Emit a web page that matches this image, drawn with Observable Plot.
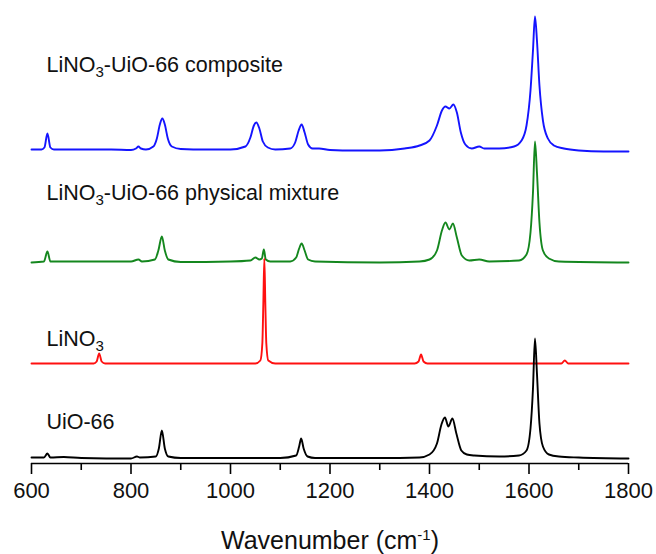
<!DOCTYPE html>
<html><head><meta charset="utf-8">
<script src="https://cdn.jsdelivr.net/npm/d3@7"></script>
<script src="https://cdn.jsdelivr.net/npm/@observablehq/plot@0.6"></script>
<style>body{margin:0;background:#fff;} #chart svg{font-family:"Liberation Sans",Arial,sans-serif;}</style>
</head><body><div id="chart"></div>
<script>
// Raman spectra (wavenumber, intensity in a.u. above each trace's baseline)
const compositeWn = [600,620,626,632,638,645,700,760,800,810,815,820,830,845,852,858,863,868,874,882,900,950,1000,1030,1040,1047,1052,1058,1065,1075,1090,1120,1130,1137,1143,1149,1156,1165,1178,1200,1250,1300,1350,1380,1400,1415,1425,1432,1440,1448,1455,1463,1472,1485,1500,1510,1540,1570,1585,1595,1603,1608,1612,1616,1621,1628,1638,1650,1670,1700,1750,1800];
const compositeI  = [1,1,3,17,3,1,1,1,0.5,2,4,2,1,4,12,26,32,26,12,4,1.5,1,1,4,13,25,28,22,9,3,1,2,8,20,26,18,6,2,2,0.5,0,0,2,5,10,25,40,44,42,46,38,18,6,2,4,2,2,4,10,25,60,100,134,110,65,30,12,5,2,0,-1,-1];

const mixtureWn = [600,625,632,638,700,800,815,822,848,855,862,868,875,900,1000,1040,1050,1058,1063,1067,1071,1080,1120,1132,1138,1143,1149,1156,1170,1300,1380,1400,1415,1425,1432,1440,1447,1455,1465,1480,1500,1520,1580,1595,1603,1608,1612,1616,1621,1628,1640,1660,1800];
const mixtureI  = [0,1,11,1,1,1,3,1,3,12,26,12,3,0.5,1,2,5,3,4,13,3,1,1,5,14,19,12,3,1,0,1,3,12,32,40,33,39,25,7,2,3,1,2,8,30,70,121,90,40,12,4,1,0];

const lino3Wn = [600,725,731,736,741,748,1050,1060,1064,1066,1068,1070,1072,1076,1090,1370,1378,1383,1388,1396,1665,1672,1679,1800];
const lino3I  = [0,0,2,10,2,0,0,3,20,60,105,60,20,3,0,0,2,9,2,0,0,3,0,0];

const uioWn = [600,625,632,638,665,700,800,812,818,850,856,862,868,875,900,1100,1132,1138,1142,1147,1155,1170,1300,1380,1400,1415,1424,1431,1438,1446,1454,1464,1475,1490,1540,1580,1595,1603,1608,1612,1616,1621,1628,1640,1660,1700,1800];
const uioI  = [1,1,5,1,1.5,0.5,0,2,1,2,10,28,10,2,0.5,0.5,3,12,20,10,2,0.5,0.5,1,4,15,34,41,32,40,25,8,4,3,2,3,8,30,70,120,85,35,12,4,2,1,0];

const seriesNames   = ["LiNO3-UiO-66 composite","LiNO3-UiO-66 physical mixture","LiNO3","UiO-66"];
const seriesOffsets = [313, 201, 100, 5];
const seriesColors  = ["#1414ff","#14871e","#ff1010","#000000"];

const majorTicks = [600,800,1000,1200,1400,1600,1800];
const minorTicks = [700,900,1100,1300,1500,1700];
const xTitle = "Wavenumber (cm-1)";

// label anchor positions (in data units)
const labelWn = [630,630,630,630];
const labelY  = [398, 270, 124, 41];

const wnArrays = [compositeWn, mixtureWn, lino3Wn, uioWn];
const intArrays = [compositeI, mixtureI, lino3I, uioI];

const traces = seriesNames.map((name, k) =>
  wnArrays[k].map((wn, i) => ({series: name, wn, v: intArrays[k][i] + seriesOffsets[k]})));

const labels = seriesNames.map((name, k) => ({name, x: labelWn[k], y: labelY[k]}));

const lineMarks = [0,1,2,3].map(k =>
  Plot.line(traces[k], {x: "wn", y: "v", stroke: seriesColors[k], strokeWidth: 1.9, curve: "monotone-x"}));

const chart = Plot.plot({
  width: 656, height: 554,
  marginLeft: 31, marginRight: 28, marginTop: 0, marginBottom: 91,
  style: {fontFamily: '"Liberation Sans", Arial, sans-serif', background: "white", color: "black"},
  x: {domain: [600, 1800]},
  y: {domain: [0, 463], axis: null},
  marks: [
    ...lineMarks,
    Plot.ruleY([0], {stroke: "black", strokeWidth: 1.6}),
    Plot.axisX({ticks: majorTicks, tickSize: 11, tickPadding: 8, strokeWidth: 1.6, fontSize: 22, fill: "#111", tickFormat: d => String(d), label: null}),
    Plot.axisX({ticks: minorTicks, tickSize: 7, strokeWidth: 1.6, tickFormat: () => "", label: null}),
    Plot.text(labels, {x: "x", y: "y", text: "name", textAnchor: "start", fontSize: 21.5, fill: "#111", className: "series-label"}),
    Plot.text([xTitle], {x: 1200, y: -77, text: d => d, fontSize: 25, fill: "#111", className: "x-title"})
  ]
});

document.getElementById("chart").appendChild(chart);

// subscripts / superscripts as real text spans
d3.select(chart).selectAll(".series-label text").each(function() {
  const t = d3.select(this);
  const s = t.text();
  const idx = s.indexOf("NO3");
  if (idx >= 0) {
    t.text(null);
    t.append("tspan").text(s.slice(0, idx + 2));
    t.append("tspan").attr("dy", "0.3em").attr("font-size", "0.7em").text("3");
    t.append("tspan").attr("dy", "-0.21em").text(s.slice(idx + 3));
  }
});
d3.select(chart).selectAll(".x-title text").each(function() {
  const t = d3.select(this);
  t.text(null);
  t.append("tspan").text("Wavenumber (cm");
  t.append("tspan").attr("dy", "-0.55em").attr("font-size", "0.6em").text("-1");
  t.append("tspan").attr("dy", "0.33em").text(")");
});
</script></body></html>
